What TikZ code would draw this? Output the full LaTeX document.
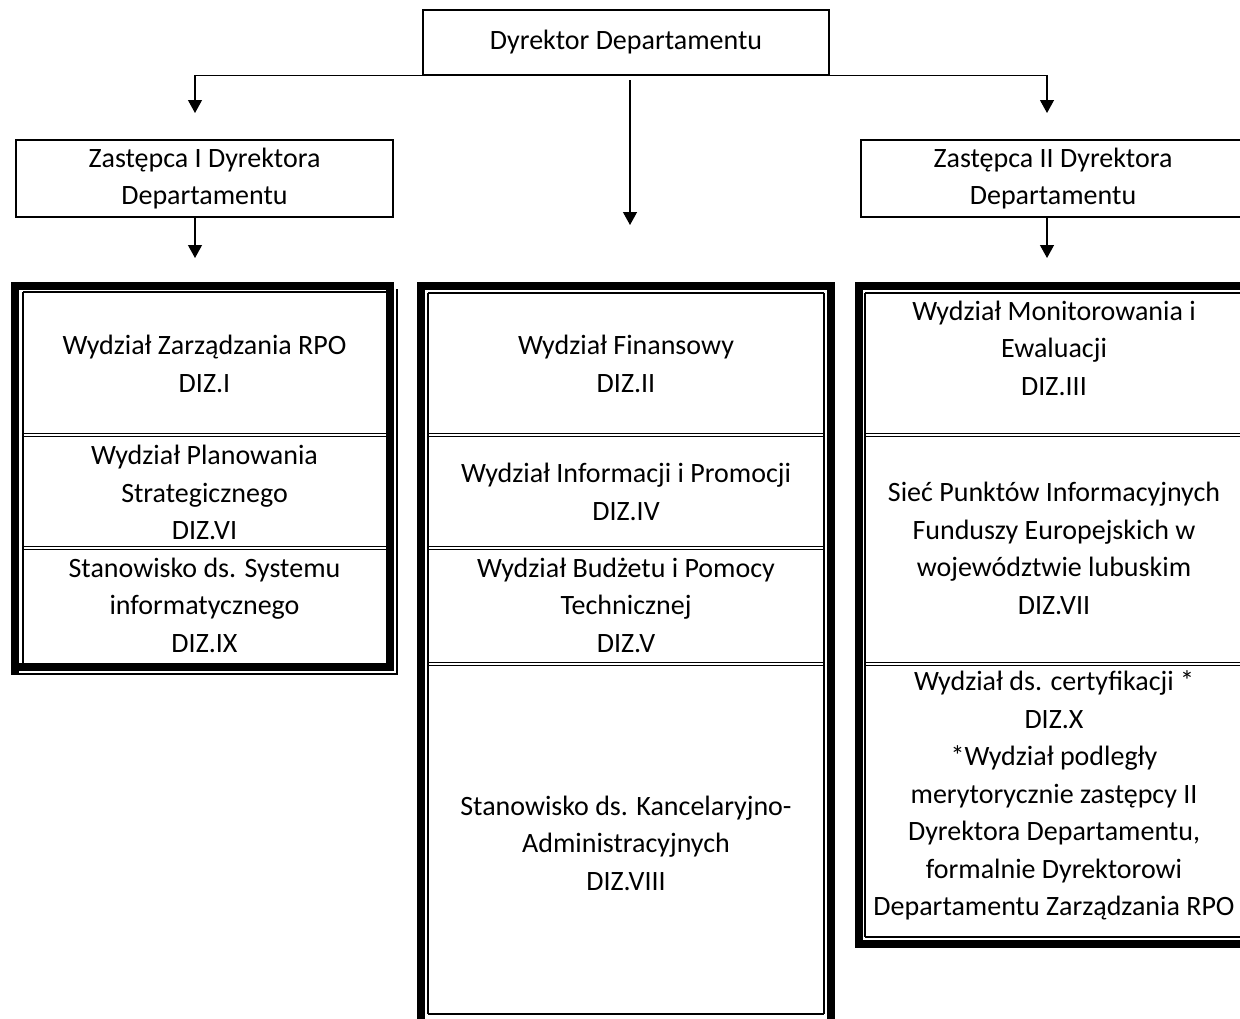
\documentclass[tikz,border=0pt]{standalone}
\usepackage{fontspec}
\setmainfont{Carlito}
\usetikzlibrary{arrows.meta}
\begin{document}
\begin{tikzpicture}[x=0.5pt,y=-0.5pt,
  lbl/.style={align=center,inner sep=0pt,font=\fontsize{14pt}{18.75pt}\selectfont},
  headbox/.style={draw,line width=0.75pt,align=center,inner sep=0pt,
    font=\fontsize{14pt}{18.75pt}\selectfont},
  heavy/.style={line width=4pt},
  fine/.style={line width=1pt},
  split/.style={line width=0.6pt},
  conn/.style={line width=0.6pt,-{Triangle[length=6.5pt,width=7pt]}}]
\useasboundingbox (0,0) rectangle (1240,1018);

% management boxes
\node[headbox,minimum width=203pt,minimum height=32.5pt] (dyr) at (626,42.5) {Dyrektor Departamentu};
\node[headbox,minimum width=188.5pt,minimum height=38.5pt] (z1) at (204.5,178.5) {Zastępca I Dyrektora\\Departamentu};
\node[headbox,minimum width=192pt,minimum height=38.5pt] (z2) at (1053,178.5) {Zastępca II Dyrektora\\Departamentu};

% arrow ends
\coordinate (t1) at (195,113);
\coordinate (t3) at (1047,113);
\coordinate (m1) at (630,80);
\coordinate (m2) at (630,225);
\coordinate (b1) at (195,258);
\coordinate (b3) at (1047,258);

\draw[conn] (dyr.south west) -| (t1);
\draw[conn] (dyr.south east) -| (t3);
\draw[conn] (m1) -- (m2);
\draw[conn] (z1.south -| t1) -- (b1);
\draw[conn] (z2.south -| t3) -- (b3);

% left unit table
\draw[heavy] (15,282) -- (15,675);
\draw[heavy] (11,285.5) -- (394,285.5);
\draw[heavy] (390,282) -- (390,671);
\draw[heavy] (11,667) -- (394,667);
\draw[fine] (23,292) -- (23,663);
\draw[fine] (23,292) -- (386,292);
\draw[fine] (397,289) -- (397,675);
\draw[fine] (19,674) -- (398,674);
\foreach \yy in {435,548}{
  \draw[split] (23,\yy-1.5) -- (386,\yy-1.5);
  \draw[split] (23,\yy+1.5) -- (386,\yy+1.5);
}

% middle unit table
\draw[heavy] (421,282) -- (421,1030);
\draw[heavy] (831,282) -- (831,1030);
\draw[heavy] (417,286) -- (835,286);
\draw[heavy] (417,1028) -- (835,1028);
\draw[fine] (428,293) -- (428,1014);
\draw[fine] (824,293) -- (824,1014);
\draw[fine] (428,293) -- (824,293);
\draw[fine] (428,1014) -- (824,1014);
\foreach \yy in {435,548,664}{
  \draw[split] (428,\yy-1.5) -- (824,\yy-1.5);
  \draw[split] (428,\yy+1.5) -- (824,\yy+1.5);
}

% right unit table
\draw[heavy] (858.5,282) -- (858.5,948);
\draw[heavy] (855,286) -- (1260,286);
\draw[heavy] (855,944) -- (1260,944);
\draw[fine] (865,293) -- (865,937);
\draw[fine] (865,293) -- (1260,293);
\draw[fine] (865,937) -- (1260,937);
\foreach \yy in {435,664}{
  \draw[split] (865,\yy-1.5) -- (1260,\yy-1.5);
  \draw[split] (865,\yy+1.5) -- (1260,\yy+1.5);
}

% unit names
\node[lbl] (u1) at (204.5,364) {Wydział Zarządzania RPO\\DIZ.I};
\node[lbl] (u6) at (204.5,492.5) {Wydział Planowania\\Strategicznego\\DIZ.VI};
\node[lbl] (u9) at (204.5,605) {Stanowisko ds. Systemu\\informatycznego\\DIZ.IX};

\node[lbl] (u2) at (626,364) {Wydział Finansowy\\DIZ.II};
\node[lbl] (u4) at (626,492) {Wydział Informacji i Promocji\\DIZ.IV};
\node[lbl] (u5) at (626,605) {Wydział Budżetu i Pomocy\\Technicznej\\DIZ.V};
\node[lbl] (u8) at (626,843) {Stanowisko ds. Kancelaryjno-\\Administracyjnych\\DIZ.VIII};

\node[lbl] (u3) at (1054,348) {Wydział Monitorowania i\\Ewaluacji\\DIZ.III};
\node[lbl] (u7) at (1054,548.5) {Sieć Punktów Informacyjnych\\Funduszy Europejskich w\\województwie lubuskim\\DIZ.VII};
\node[lbl] (u10) at (1054,795.5) {Wydział ds. certyfikacji *\\DIZ.X\\*Wydział podległy\\merytorycznie zastępcy II\\Dyrektora Departamentu,\\formalnie Dyrektorowi\\Departamentu Zarządzania RPO};
\end{tikzpicture}
\end{document}
